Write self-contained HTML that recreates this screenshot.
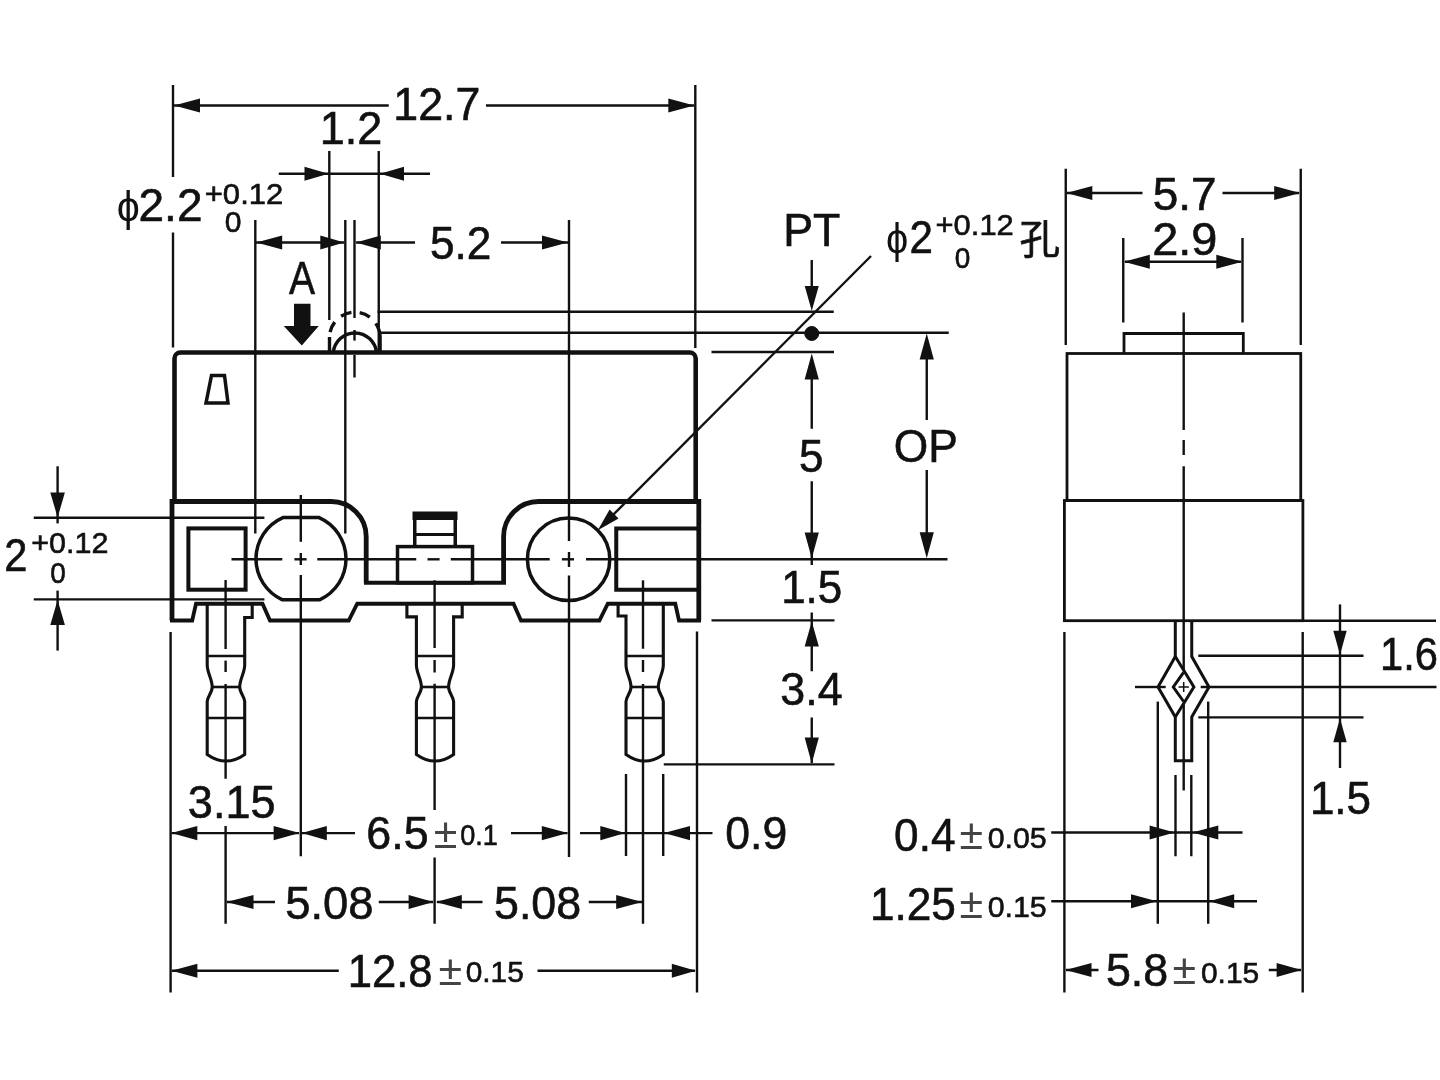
<!DOCTYPE html>
<html lang="zh"><head><meta charset="utf-8"><title>Micro switch dimensions</title>
<style>
html,body{margin:0;padding:0;background:#fff;}
body{width:1440px;height:1080px;overflow:hidden;}
svg{display:block;filter:grayscale(1) blur(0.55px);}
svg line,svg path,svg rect,svg circle{stroke:#111;}
svg text{font-family:"Liberation Sans",sans-serif;fill:#111;stroke:#111;stroke-width:0.6px;}
svg text.pm{stroke:none;fill:#444;}
svg text.ph{stroke:none;}
</style></head><body>
<svg width="1440" height="1080" viewBox="0 0 1440 1080">
<rect x="0" y="0" width="1440" height="1080" fill="#fff" stroke="none" style="stroke:none"/>
<line x1="173.00" y1="85.00" x2="173.00" y2="177.00" stroke-width="2.4"/>
<line x1="173.00" y1="232.50" x2="173.00" y2="347.50" stroke-width="2.4"/>
<line x1="695.30" y1="85.00" x2="695.30" y2="348.00" stroke-width="2.4"/>
<line x1="173.00" y1="105.50" x2="388.75" y2="105.50" stroke-width="2.4"/>
<line x1="486.00" y1="105.50" x2="694.00" y2="105.50" stroke-width="2.4"/>
<polygon points="174.00,105.50 200.00,98.40 200.00,112.60" fill="#111" stroke="none"/>
<polygon points="694.30,105.50 668.30,112.60 668.30,98.40" fill="#111" stroke="none"/>
<line x1="329.30" y1="151.00" x2="329.30" y2="320.00" stroke-width="2.4"/>
<line x1="378.75" y1="151.00" x2="378.75" y2="352.00" stroke-width="2.4"/>
<line x1="278.75" y1="173.75" x2="430.00" y2="173.75" stroke-width="2.4"/>
<polygon points="328.50,173.75 304.50,180.85 304.50,166.65" fill="#111" stroke="none"/>
<polygon points="380.00,173.75 404.00,166.65 404.00,180.85" fill="#111" stroke="none"/>
<line x1="255.30" y1="220.00" x2="255.30" y2="533.50" stroke-width="2.4"/>
<line x1="345.30" y1="220.00" x2="345.30" y2="533.50" stroke-width="2.4"/>
<line x1="354.50" y1="220.00" x2="354.50" y2="318.00" stroke-width="2.4"/>
<line x1="354.50" y1="330.00" x2="354.50" y2="340.60" stroke-width="2.4"/>
<line x1="354.50" y1="355.00" x2="354.50" y2="377.50" stroke-width="2.4"/>
<line x1="256.00" y1="242.50" x2="344.00" y2="242.50" stroke-width="2.4"/>
<polygon points="256.20,242.50 282.20,235.40 282.20,249.60" fill="#111" stroke="none"/>
<polygon points="344.30,242.50 320.30,249.60 320.30,235.40" fill="#111" stroke="none"/>
<line x1="356.00" y1="242.50" x2="415.00" y2="242.50" stroke-width="2.4"/>
<polygon points="355.80,242.50 380.80,235.40 380.80,249.60" fill="#111" stroke="none"/>
<line x1="501.00" y1="242.50" x2="568.00" y2="242.50" stroke-width="2.4"/>
<polygon points="568.00,242.50 542.00,249.60 542.00,235.40" fill="#111" stroke="none"/>
<line x1="569.00" y1="220.00" x2="569.00" y2="541.00" stroke-width="2.4"/>
<line x1="569.00" y1="552.00" x2="569.00" y2="567.00" stroke-width="2.4"/>
<line x1="569.00" y1="575.60" x2="569.00" y2="857.00" stroke-width="2.4"/>
<line x1="300.80" y1="495.00" x2="300.80" y2="541.80" stroke-width="2.4"/>
<line x1="300.80" y1="553.00" x2="300.80" y2="565.00" stroke-width="2.4"/>
<line x1="300.80" y1="575.00" x2="300.80" y2="856.25" stroke-width="2.4"/>
<line x1="377.50" y1="311.75" x2="833.75" y2="311.75" stroke-width="2.4"/>
<line x1="380.00" y1="332.75" x2="948.75" y2="332.75" stroke-width="2.4"/>
<line x1="711.50" y1="352.00" x2="834.00" y2="352.00" stroke-width="2.4"/>
<line x1="811.75" y1="260.00" x2="811.75" y2="300.00" stroke-width="2.4"/>
<polygon points="811.75,311.00 804.75,286.00 818.75,286.00" fill="#111" stroke="none"/>
<circle cx="811.75" cy="333.5" r="7" fill="#111" stroke="none"/>
<line x1="811.75" y1="360.00" x2="811.75" y2="428.75" stroke-width="2.4"/>
<polygon points="811.75,353.50 818.85,379.50 804.65,379.50" fill="#111" stroke="none"/>
<line x1="811.75" y1="481.25" x2="811.75" y2="565.00" stroke-width="2.4"/>
<polygon points="811.75,558.50 804.65,532.50 818.85,532.50" fill="#111" stroke="none"/>
<line x1="811.75" y1="612.50" x2="811.75" y2="671.25" stroke-width="2.4"/>
<polygon points="811.75,621.50 818.85,646.50 804.65,646.50" fill="#111" stroke="none"/>
<line x1="811.75" y1="717.50" x2="811.75" y2="763.00" stroke-width="2.4"/>
<polygon points="811.75,763.50 804.65,737.50 818.85,737.50" fill="#111" stroke="none"/>
<line x1="926.75" y1="340.00" x2="926.75" y2="420.00" stroke-width="2.4"/>
<polygon points="926.75,333.50 933.85,359.50 919.65,359.50" fill="#111" stroke="none"/>
<line x1="926.75" y1="470.00" x2="926.75" y2="552.00" stroke-width="2.4"/>
<polygon points="926.75,558.30 919.65,532.30 933.85,532.30" fill="#111" stroke="none"/>
<line x1="711.50" y1="620.40" x2="834.50" y2="620.40" stroke-width="2.4"/>
<line x1="663.75" y1="764.40" x2="834.50" y2="764.40" stroke-width="2.4"/>
<line x1="871.00" y1="256.00" x2="605.80" y2="522.20" stroke-width="2.4"/>
<polygon points="597.80,530.20 609.61,509.48 618.52,518.39" fill="#111" stroke="none"/>
<line x1="57.60" y1="466.25" x2="57.60" y2="523.40" stroke-width="2.4"/>
<polygon points="57.60,517.50 50.30,492.50 64.90,492.50" fill="#111" stroke="none"/>
<line x1="33.75" y1="517.80" x2="264.40" y2="517.80" stroke-width="2.4"/>
<line x1="33.75" y1="599.40" x2="264.40" y2="599.40" stroke-width="2.4"/>
<line x1="57.60" y1="590.60" x2="57.60" y2="650.60" stroke-width="2.4"/>
<polygon points="57.60,600.00 64.90,625.00 50.30,625.00" fill="#111" stroke="none"/>
<line x1="170.60" y1="632.00" x2="170.60" y2="992.50" stroke-width="2.4"/>
<line x1="697.00" y1="631.50" x2="697.00" y2="992.50" stroke-width="2.4"/>
<line x1="225.60" y1="580.00" x2="225.60" y2="649.00" stroke-width="2.4"/>
<line x1="225.60" y1="660.60" x2="225.60" y2="672.00" stroke-width="2.4"/>
<line x1="225.60" y1="684.00" x2="225.60" y2="778.75" stroke-width="2.4"/>
<line x1="225.60" y1="826.00" x2="225.60" y2="923.75" stroke-width="2.4"/>
<line x1="434.60" y1="580.30" x2="434.60" y2="648.00" stroke-width="2.4"/>
<line x1="434.60" y1="660.00" x2="434.60" y2="672.50" stroke-width="2.4"/>
<line x1="434.60" y1="683.75" x2="434.60" y2="810.00" stroke-width="2.4"/>
<line x1="434.60" y1="857.50" x2="434.60" y2="923.75" stroke-width="2.4"/>
<line x1="643.00" y1="580.30" x2="643.00" y2="648.75" stroke-width="2.4"/>
<line x1="643.00" y1="660.00" x2="643.00" y2="672.00" stroke-width="2.4"/>
<line x1="643.00" y1="684.00" x2="643.00" y2="923.75" stroke-width="2.4"/>
<line x1="171.50" y1="833.10" x2="299.00" y2="833.10" stroke-width="2.4"/>
<polygon points="171.30,833.10 197.30,826.00 197.30,840.20" fill="#111" stroke="none"/>
<polygon points="299.60,833.10 273.60,840.20 273.60,826.00" fill="#111" stroke="none"/>
<line x1="302.00" y1="833.10" x2="355.00" y2="833.10" stroke-width="2.4"/>
<polygon points="301.80,833.10 326.80,826.00 326.80,840.20" fill="#111" stroke="none"/>
<line x1="511.00" y1="833.10" x2="567.50" y2="833.10" stroke-width="2.4"/>
<polygon points="567.80,833.10 541.80,840.20 541.80,826.00" fill="#111" stroke="none"/>
<line x1="580.00" y1="833.10" x2="712.50" y2="833.10" stroke-width="2.4"/>
<polygon points="625.30,833.10 600.30,840.20 600.30,826.00" fill="#111" stroke="none"/>
<polygon points="664.00,833.10 690.00,826.00 690.00,840.20" fill="#111" stroke="none"/>
<line x1="626.00" y1="774.00" x2="626.00" y2="856.00" stroke-width="2.4"/>
<line x1="663.20" y1="774.00" x2="663.20" y2="856.00" stroke-width="2.4"/>
<line x1="227.00" y1="902.00" x2="275.00" y2="902.00" stroke-width="2.4"/>
<polygon points="226.50,902.00 253.50,894.90 253.50,909.10" fill="#111" stroke="none"/>
<line x1="378.75" y1="902.00" x2="433.00" y2="902.00" stroke-width="2.4"/>
<polygon points="433.60,902.00 408.60,909.10 408.60,894.90" fill="#111" stroke="none"/>
<line x1="437.00" y1="902.00" x2="482.50" y2="902.00" stroke-width="2.4"/>
<polygon points="435.80,902.00 461.80,894.90 461.80,909.10" fill="#111" stroke="none"/>
<line x1="588.75" y1="902.00" x2="642.00" y2="902.00" stroke-width="2.4"/>
<polygon points="642.20,902.00 616.20,909.10 616.20,894.90" fill="#111" stroke="none"/>
<line x1="172.00" y1="970.75" x2="338.75" y2="970.75" stroke-width="2.4"/>
<polygon points="171.40,970.75 197.40,963.65 197.40,977.85" fill="#111" stroke="none"/>
<line x1="537.50" y1="970.75" x2="695.00" y2="970.75" stroke-width="2.4"/>
<polygon points="695.80,970.75 671.80,977.85 671.80,963.65" fill="#111" stroke="none"/>
<path d="M174.5,501.5 V358.5 A6,6 0 0 1 180.5,352.5 H689.7 A6,6 0 0 1 695.7,358.5 V501.5" stroke-width="4.6" fill="none" />
<path d="M172,620.5 V501.5 H331 A35,35 0 0 1 366.2,536.5 V582.7 M503.6,582.7 V536.5 A35,35 0 0 1 538.6,501.5 H698.8 V620.5" stroke-width="4.8" fill="none" stroke-linejoin="miter"/>
<path d="M364,582.7 H506" stroke-width="4" fill="none" />
<path d="M701,620.5 H679 L675.3,603.75 H607.8 L599.4,620.5 H521 L513.5,603.75 H357.2 L348.75,620.5 H270 L262.5,603.75 H196 L192.2,620.5 H170" stroke-width="3.8" fill="none" stroke-linejoin="miter"/>
<path d="M211.5,375.5 H224.5 L228,403 H206 Z" stroke-width="3.5" fill="none" />
<polygon points="294,303.75 310.5,303.75 310.5,326 318.75,326 301.8,345.5 283.75,326 294,326" fill="#111" stroke="none"/>
<path d="M329.5,351 V337.5 A25.3,25.3 0 0 1 380.1,337.5 V351" stroke-width="3.4" fill="none" stroke-dasharray="14 5 11 8.5 11 8.5 11 8.5 30"/>
<path d="M333.3,352.5 A21.7,21.7 0 0 1 376.5,352.5" stroke-width="3.5" fill="none" />
<rect x="188.4" y="528.4" width="57.2" height="61.3" stroke-width="4" fill="none"/>
<path d="M282.90,517.6 H319.10 A45,45 0 0 1 319.55,599.8 H282.45 A45,45 0 0 1 282.90,517.6 Z" stroke-width="3.5" fill="none" />
<circle cx="568.6" cy="559.3" r="41.2" stroke-width="3.5" fill="none"/>
<path d="M698,528.4 H616.25 V589.7 H698" stroke-width="4" fill="none" />
<rect x="397.5" y="546.6" width="75" height="36.2" stroke-width="3.5" fill="none"/>
<path d="M414.75,546.6 V516 M455.25,546.6 V516" stroke-width="3.5" fill="none" />
<rect x="413" y="512" width="44" height="7.5" fill="#111" stroke="none"/>
<line x1="414.75" y1="534.40" x2="455.25" y2="534.40" stroke-width="3"/>
<line x1="231.50" y1="559.30" x2="282.30" y2="559.30" stroke-width="2.4"/>
<line x1="294.40" y1="559.30" x2="306.60" y2="559.30" stroke-width="2.4"/>
<line x1="317.30" y1="559.30" x2="416.25" y2="559.30" stroke-width="2.4"/>
<line x1="427.50" y1="559.30" x2="439.60" y2="559.30" stroke-width="2.4"/>
<line x1="450.80" y1="559.30" x2="549.70" y2="559.30" stroke-width="2.4"/>
<line x1="561.90" y1="559.30" x2="574.00" y2="559.30" stroke-width="2.4"/>
<line x1="586.00" y1="559.30" x2="947.50" y2="559.30" stroke-width="2.4"/>
<path d="M207.2,603.75 V665 C207.2,673 212.2,679 212.2,687 C212.2,693 207.2,697 207.2,701.5 V754.4 Q225.95,767.6 244.7,754.4 V701.5 C244.7,697 239.7,693 239.7,687 C239.7,679 244.7,673 244.7,665 V617.5 H252.2 V603.75" stroke-width="3.1" fill="none" />
<line x1="207.20" y1="656.00" x2="244.70" y2="656.00" stroke-width="2.6"/>
<line x1="212.20" y1="687.00" x2="239.70" y2="687.00" stroke-width="2.6"/>
<line x1="207.20" y1="718.00" x2="244.70" y2="718.00" stroke-width="2.6"/>
<path d="M406.9,603.75 V616.9 H416.4 V665 C416.4,673 421.4,679 421.4,687 C421.4,693 416.4,697 416.4,701.5 V754.4 Q435.0,767.6 453.6,754.4 V701.5 C453.6,697 448.6,693 448.6,687 C448.6,679 453.6,673 453.6,665 V616.9 H462.2 V603.75" stroke-width="3.1" fill="none" />
<line x1="416.40" y1="656.00" x2="453.60" y2="656.00" stroke-width="2.6"/>
<line x1="421.40" y1="687.00" x2="448.60" y2="687.00" stroke-width="2.6"/>
<line x1="416.40" y1="718.00" x2="453.60" y2="718.00" stroke-width="2.6"/>
<path d="M618.1,603.75 V616 H626 V665 C626,673 631,679 631,687 C631,693 626,697 626,701.5 V754.4 Q644.65,767.6 663.3,754.4 V701.5 C663.3,697 658.3,693 658.3,687 C658.3,679 663.3,673 663.3,665 V603.75" stroke-width="3.1" fill="none" />
<line x1="626.00" y1="656.00" x2="663.30" y2="656.00" stroke-width="2.6"/>
<line x1="631.00" y1="687.00" x2="658.30" y2="687.00" stroke-width="2.6"/>
<line x1="626.00" y1="718.00" x2="663.30" y2="718.00" stroke-width="2.6"/>
<path d="M1124,353.5 V333.5 H1243.3 V353.5" stroke-width="2.8" fill="none" />
<rect x="1067" y="353.5" width="233.75" height="147" stroke-width="2.8" fill="none"/>
<rect x="1064.4" y="500.5" width="238.5" height="120.2" stroke-width="2.8" fill="none"/>
<line x1="1183.70" y1="312.50" x2="1183.70" y2="430.00" stroke-width="2.4"/>
<line x1="1183.70" y1="440.00" x2="1183.70" y2="455.00" stroke-width="2.4"/>
<line x1="1183.70" y1="466.25" x2="1183.70" y2="670.00" stroke-width="2.4"/>
<line x1="1183.70" y1="703.00" x2="1183.70" y2="790.50" stroke-width="2.4"/>
<line x1="1065.75" y1="168.75" x2="1065.75" y2="345.00" stroke-width="2.4"/>
<line x1="1300.75" y1="168.75" x2="1300.75" y2="345.00" stroke-width="2.4"/>
<line x1="1123.25" y1="238.00" x2="1123.25" y2="322.50" stroke-width="2.4"/>
<line x1="1242.50" y1="238.00" x2="1242.50" y2="322.50" stroke-width="2.4"/>
<line x1="1067.00" y1="193.00" x2="1142.50" y2="193.00" stroke-width="2.4"/>
<polygon points="1066.30,193.00 1092.30,185.90 1092.30,200.10" fill="#111" stroke="none"/>
<line x1="1222.50" y1="193.00" x2="1299.00" y2="193.00" stroke-width="2.4"/>
<polygon points="1300.20,193.00 1274.20,200.10 1274.20,185.90" fill="#111" stroke="none"/>
<line x1="1125.00" y1="261.75" x2="1241.00" y2="261.75" stroke-width="2.4"/>
<polygon points="1123.80,261.75 1149.80,254.65 1149.80,268.85" fill="#111" stroke="none"/>
<polygon points="1242.30,261.75 1216.30,268.85 1216.30,254.65" fill="#111" stroke="none"/>
<line x1="1064.40" y1="632.00" x2="1064.40" y2="992.50" stroke-width="2.4"/>
<line x1="1302.70" y1="632.00" x2="1302.70" y2="992.50" stroke-width="2.4"/>
<line x1="1303.00" y1="620.70" x2="1436.00" y2="620.70" stroke-width="2.4"/>
<line x1="1198.30" y1="655.70" x2="1363.50" y2="655.70" stroke-width="2.4"/>
<line x1="1198.30" y1="717.40" x2="1363.50" y2="717.40" stroke-width="2.4"/>
<line x1="1135.00" y1="687.00" x2="1165.70" y2="687.00" stroke-width="2.4"/>
<line x1="1200.70" y1="687.00" x2="1436.50" y2="687.00" stroke-width="2.4"/>
<line x1="1178.50" y1="687.00" x2="1188.90" y2="687.00" stroke-width="1.5"/>
<line x1="1183.70" y1="682.00" x2="1183.70" y2="692.00" stroke-width="1.5"/>
<line x1="1340.00" y1="604.40" x2="1340.00" y2="768.00" stroke-width="2.4"/>
<polygon points="1340.00,654.80 1333.30,630.80 1346.70,630.80" fill="#111" stroke="none"/>
<polygon points="1340.00,718.30 1346.70,742.30 1333.30,742.30" fill="#111" stroke="none"/>
<line x1="1157.80" y1="701.60" x2="1157.80" y2="923.75" stroke-width="2.4"/>
<line x1="1208.20" y1="701.60" x2="1208.20" y2="923.75" stroke-width="2.4"/>
<line x1="1175.50" y1="775.00" x2="1175.50" y2="856.25" stroke-width="2.4"/>
<line x1="1191.30" y1="775.00" x2="1191.30" y2="856.25" stroke-width="2.4"/>
<line x1="1051.25" y1="832.50" x2="1242.50" y2="832.50" stroke-width="2.4"/>
<polygon points="1174.60,832.50 1149.60,839.60 1149.60,825.40" fill="#111" stroke="none"/>
<polygon points="1192.30,832.50 1218.30,825.40 1218.30,839.60" fill="#111" stroke="none"/>
<line x1="1051.25" y1="901.25" x2="1257.00" y2="901.25" stroke-width="2.4"/>
<polygon points="1157.00,901.25 1131.00,908.35 1131.00,894.15" fill="#111" stroke="none"/>
<polygon points="1209.20,901.25 1234.20,894.15 1234.20,908.35" fill="#111" stroke="none"/>
<line x1="1066.00" y1="970.00" x2="1098.50" y2="970.00" stroke-width="2.4"/>
<polygon points="1065.50,970.00 1091.50,962.90 1091.50,977.10" fill="#111" stroke="none"/>
<line x1="1268.75" y1="970.00" x2="1301.00" y2="970.00" stroke-width="2.4"/>
<polygon points="1301.60,970.00 1276.60,977.10 1276.60,962.90" fill="#111" stroke="none"/>
<path d="M1175.3,620.7 V656.5 L1158,687 L1175.3,717 V760.8 H1191.75 V717 L1209,687 L1191.75,656.5 V620.7" stroke-width="3" fill="none" />
<path d="M1175.3,656.5 L1193.9,687 L1175.3,717" stroke-width="3" fill="none" />
<path d="M1183.6,672.3 L1173.3,687 L1183.6,701.5" stroke-width="3" fill="none" />
<text transform="translate(393.37,120.00) scale(0.981,1)" font-size="45.6">12.7</text>
<text transform="translate(319.84,143.75) scale(0.987,1)" font-size="45.6">1.2</text>
<text transform="translate(116.74,221.00) scale(0.959,1)" font-size="43" class="ph">ϕ</text>
<text transform="translate(138.53,221.00) scale(1.009,1)" font-size="45.6">2.2</text>
<text transform="translate(204.75,203.75) scale(1.035,1)" font-size="30">+0.12</text>
<text transform="translate(224.67,232.00) scale(1.002,1)" font-size="30">0</text>
<text transform="translate(429.98,258.75) scale(0.969,1)" font-size="45.6">5.2</text>
<text transform="translate(288.99,293.80) scale(0.856,1)" font-size="45.6">A</text>
<text transform="translate(783.13,246.00) scale(0.979,1)" font-size="45.6">PT</text>
<text transform="translate(886.00,252.50) scale(0.925,1)" font-size="43" class="ph">ϕ</text>
<text transform="translate(909.52,252.80) scale(0.925,1)" font-size="45.6">2</text>
<text transform="translate(935.55,234.50) scale(1.031,1)" font-size="30">+0.12</text>
<text transform="translate(954.75,267.50) scale(0.932,1)" font-size="30">0</text>
<text x="1019.5" y="253.5" font-size="40.5" style="font-family:'Liberation Sans','Noto Sans CJK SC',sans-serif">孔</text>
<text transform="translate(1152.66,210.00) scale(1.007,1)" font-size="45.6">5.7</text>
<text transform="translate(1152.24,255.00) scale(1.028,1)" font-size="45.6">2.9</text>
<text transform="translate(798.99,472.00) scale(0.966,1)" font-size="45.6">5</text>
<text transform="translate(893.73,462.00) scale(0.972,1)" font-size="45.6">OP</text>
<text transform="translate(781.18,602.50) scale(0.964,1)" font-size="45.6">1.5</text>
<text transform="translate(780.33,705.00) scale(0.982,1)" font-size="45.6">3.4</text>
<text transform="translate(4.35,571.25) scale(0.913,1)" font-size="45.6">2</text>
<text transform="translate(31.27,553.40) scale(1.018,1)" font-size="30">+0.12</text>
<text transform="translate(50.35,582.80) scale(0.932,1)" font-size="30">0</text>
<text transform="translate(187.82,818.00) scale(0.989,1)" font-size="45.6">3.15</text>
<text transform="translate(366.27,849.00) scale(0.983,1)" font-size="45.6">6.5</text>
<text transform="translate(433.82,847.50) scale(1.000,1)" font-size="43" class="pm">±</text>
<text transform="translate(460.18,845.40) scale(0.905,1)" font-size="30">0.1</text>
<text transform="translate(725.34,849.00) scale(0.977,1)" font-size="45.6">0.9</text>
<text transform="translate(285.18,918.50) scale(0.997,1)" font-size="45.6">5.08</text>
<text transform="translate(493.96,918.50) scale(0.983,1)" font-size="45.6">5.08</text>
<text transform="translate(347.65,987.00) scale(0.957,1)" font-size="45.6">12.8</text>
<text transform="translate(438.43,984.50) scale(1.000,1)" font-size="43" class="pm">±</text>
<text transform="translate(465.68,982.40) scale(0.995,1)" font-size="30">0.15</text>
<text transform="translate(1380.10,669.50) scale(0.914,1)" font-size="45.6">1.6</text>
<text transform="translate(1309.93,814.00) scale(0.964,1)" font-size="45.6">1.5</text>
<text transform="translate(894.10,851.25) scale(0.969,1)" font-size="45.6">0.4</text>
<text transform="translate(959.42,849.20) scale(1.000,1)" font-size="43" class="pm">±</text>
<text transform="translate(987.66,847.50) scale(1.012,1)" font-size="30">0.05</text>
<text transform="translate(869.90,920.00) scale(0.970,1)" font-size="45.6">1.25</text>
<text transform="translate(959.42,918.20) scale(1.000,1)" font-size="43" class="pm">±</text>
<text transform="translate(987.66,916.50) scale(1.012,1)" font-size="30">0.15</text>
<text transform="translate(1105.96,986.25) scale(0.982,1)" font-size="45.6">5.8</text>
<text transform="translate(1172.42,984.20) scale(1.000,1)" font-size="43" class="pm">±</text>
<text transform="translate(1200.93,982.50) scale(0.998,1)" font-size="30">0.15</text>
</svg>
</body></html>
